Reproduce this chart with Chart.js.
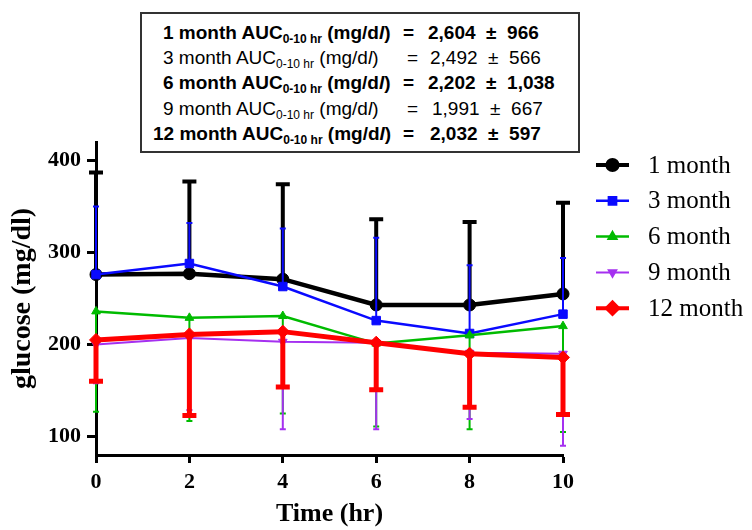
<!DOCTYPE html>
<html>
<head>
<meta charset="utf-8">
<title>Glucose over time</title>
<script src="https://cdn.jsdelivr.net/npm/chart.js@4/dist/chart.umd.min.js"></script>
<style>
  html, body { margin: 0; padding: 0; background: #fff; }
  #wrap { position: relative; width: 752px; height: 530px; }
  #aucBox {
    position: absolute; left: 140px; top: 12px; width: 440px; height: 141px;
    border: 2px solid #333; box-sizing: border-box; background: #fff;
  }
  .aucRow { position: absolute; height: 25px; line-height: 25px; white-space: nowrap;
    font-family: Arial, 'Liberation Sans', sans-serif; font-size: 19px; color: #000; }
  .aucRow span { position: absolute; top: 0; }
  .aucRow sub { font-size: 12px; vertical-align: -4px; line-height: 0; }
  .bold { font-weight: bold; }
</style>
</head>
<body>
<div id="wrap">
  <canvas id="glucoseChart" width="752" height="530"></canvas>
  <div id="aucBox"></div>
</div>
<script>
// time points (hr) and axis ticks
const times = [0, 2, 4, 6, 8, 10];
const yTicks = [100, 200, 300, 400];
const seriesLabels = ['1 month', '3 month', '6 month', '9 month', '12 month'];

// mean glucose (mg/dl)
const month1 = [276, 277, 271, 243, 243, 255];
const month3 = [276, 288, 263, 226, 212, 233];
const month6 = [236, 229, 231, 201, 210, 220];
const month9 = [200, 207, 203, 202, 191, 190];
const month12 = [205, 211, 214, 202, 190, 186];

// end of each error bar (1 and 3 month drawn up, the rest drawn down)
const month1Err = [387, 377, 374, 336, 333, 354];
const month3Err = [350, 332, 326, 316, 286, 294];
const month6Err = [127, 117, 125, 111, 108, 105];
const month9Err = [158, 129, 108, 108, 119, 90];
const month12Err = [160, 123, 154, 151, 132, 124];

// AUC 0-10 hr
const aucMonths = [1, 3, 6, 9, 12];
const aucMean = [2604, 2492, 2202, 1991, 2032];
const aucSd = [966, 566, 1038, 667, 597];

const serif = "'Times New Roman', 'Liberation Serif', serif";

// AUC box (html text)
const wrap = document.getElementById('wrap');
const rowLeft = [163, 163, 163, 163, 153];
const eqLeft = [403, 407, 403, 407, 403];
const valLeft = [428, 430, 428, 432, 430];
aucMonths.forEach((m, i) => {
  const row = document.createElement('div');
  row.className = 'aucRow' + (i % 2 === 0 ? ' bold' : '');
  row.style.left = '0px';
  row.style.top = (20 + i * 25.2) + 'px';
  row.innerHTML =
    '<span style="left:' + rowLeft[i] + 'px">' + m + ' month AUC<sub>0-10 hr</sub> (mg/d<i>l</i>)</span>' +
    '<span style="left:' + eqLeft[i] + 'px">=</span>' +
    '<span style="left:' + valLeft[i] + 'px">' + aucMean[i].toLocaleString('en-US') +
    ' &nbsp;&plusmn;&nbsp; ' + aucSd[i].toLocaleString('en-US') + '</span>';
  wrap.appendChild(row);
});

function toPoints(values) {
  return values.map((v, i) => ({ x: times[i], y: v }));
}

// error bars, drawn under each line
const errorBars = {
  id: 'errorBars',
  beforeDatasetDraw(chart, args) {
    const ds = chart.data.datasets[args.index];
    if (!ds.errEnds) return;
    const ctx = chart.ctx;
    const yScale = chart.scales.y;
    ctx.save();
    ctx.strokeStyle = ds.borderColor;
    ctx.lineWidth = ds.errWidth;
    args.meta.data.forEach((el, j) => {
      const yEnd = yScale.getPixelForValue(ds.errEnds[j]);
      ctx.beginPath();
      ctx.moveTo(el.x, el.y);
      ctx.lineTo(el.x, yEnd);
      ctx.moveTo(el.x - ds.capHalf, yEnd);
      ctx.lineTo(el.x + ds.capHalf, yEnd);
      ctx.stroke();
    });
    ctx.restore();
  }
};

// legend with line + marker samples
const sideLegend = {
  id: 'sideLegend',
  afterDraw(chart) {
    const ctx = chart.ctx;
    ctx.save();
    chart.data.datasets.forEach((ds, i) => {
      const y = 165 + i * 35.8;
      ctx.strokeStyle = ds.borderColor;
      ctx.fillStyle = ds.borderColor;
      ctx.lineWidth = Math.min(ds.borderWidth, 4);
      ctx.beginPath();
      ctx.moveTo(596, y);
      ctx.lineTo(629, y);
      ctx.stroke();
      Chart.helpers.drawPoint(ctx, {
        pointStyle: ds.pointStyle,
        rotation: ds.pointRotation || 0,
        radius: ds.pointRadius * 0.85,
        borderWidth: 1
      }, 612.5, y);
      ctx.fillStyle = '#000';
      ctx.font = '25px ' + serif;
      ctx.textBaseline = 'middle';
      ctx.textAlign = 'left';
      ctx.fillText(ds.label, 648, y + 1);
    });
    ctx.restore();
  }
};

function series(i, values, errs, color, width, style, radius, errWidth, capHalf, extra) {
  return Object.assign({
    label: seriesLabels[i],
    data: toPoints(values),
    errEnds: errs,
    errWidth: errWidth,
    capHalf: capHalf,
    borderColor: color,
    backgroundColor: color,
    pointBackgroundColor: color,
    pointBorderColor: color,
    borderWidth: width,
    pointStyle: style,
    pointRadius: radius,
    pointHoverRadius: radius,
    pointBorderWidth: 1,
    tension: 0,
    clip: false,
    order: 5 - i
  }, extra || {});
}

const ctx = document.getElementById('glucoseChart').getContext('2d');
new Chart(ctx, {
  type: 'line',
  data: {
    datasets: [
      series(0, month1, month1Err, '#000000', 4.5, 'circle', 6, 4, 7),
      series(1, month3, month3Err, '#0a0aff', 2.5, 'rect', 6, 2, 3),
      series(2, month6, month6Err, '#00bb00', 2.5, 'triangle', 5, 2, 3),
      series(3, month9, month9Err, '#a530f0', 2, 'triangle', 5, 2, 3, { pointRotation: 180 }),
      series(4, month12, month12Err, '#ff0000', 5, 'rectRot', 6.5, 5, 7)
    ]
  },
  options: {
    responsive: false,
    animation: false,
    events: [],
    layout: { autoPadding: false, padding: { left: 0, right: 189, top: 142, bottom: 0 } },
    plugins: {
      legend: { display: false },
      tooltip: { enabled: false }
    },
    scales: {
      x: {
        type: 'linear',
        min: 0,
        max: 10,
        afterBuildTicks: s => { s.ticks = times.filter(t => t % 2 === 0).map(v => ({ value: v })); },
        afterFit: s => { s.height = 75; },
        border: { color: '#000', width: 3 },
        grid: { drawOnChartArea: false, tickLength: 8, tickWidth: 3, tickColor: '#000' },
        ticks: { color: '#000', padding: 6, font: { family: serif, size: 22, weight: 'bold' } },
        title: {
          display: true, text: 'Time (hr)', color: '#000',
          font: { family: serif, size: 26, weight: 'bold' }, padding: { top: 0, bottom: 0 }
        }
      },
      y: {
        type: 'linear',
        min: 80,
        max: 420,
        afterBuildTicks: s => { s.ticks = yTicks.map(v => ({ value: v })); },
        afterFit: s => { s.width = 96; },
        border: { color: '#000', width: 3 },
        grid: { drawOnChartArea: false, tickLength: 9, tickWidth: 3, tickColor: '#000' },
        ticks: { color: '#000', padding: 6, font: { family: serif, size: 22, weight: 'bold' } },
        title: {
          display: true, text: 'glucose (mg/dl)', color: '#000',
          font: { family: serif, size: 28, weight: 'bold' }, padding: { top: 6, bottom: 0 }
        }
      }
    }
  },
  plugins: [errorBars, sideLegend]
});
</script>
</body>
</html>
